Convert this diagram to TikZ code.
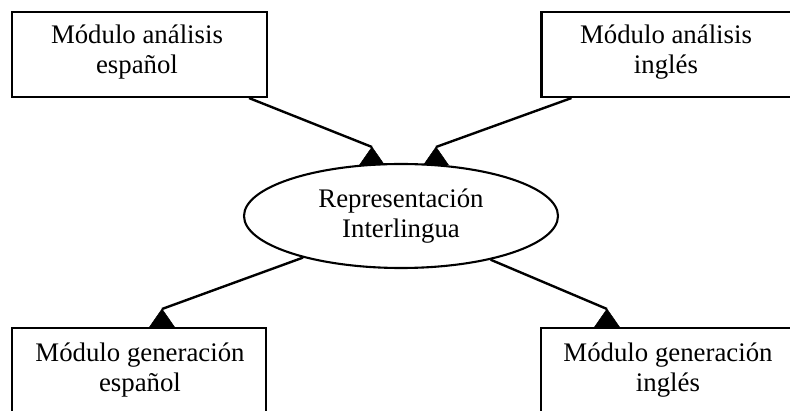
\documentclass[tikz,border=0pt]{standalone}
\usepackage{fontspec}
\setmainfont{Liberation Serif}
\usetikzlibrary{shapes.geometric}
\begin{document}
\begin{tikzpicture}[x=1pt,y=1pt,
  modbox/.style={draw, line width=2.1pt, rectangle, inner sep=0pt},
  modtext/.style={align=center, inner sep=0pt, font=\fontsize{26.8}{29.5}\selectfont},
  link/.style={line width=2.4pt},
  tiphead/.style={fill=black, draw=black, line width=0.5pt, line join=miter}]
  \useasboundingbox (0,0) rectangle (790,410);
  \clip (0,0) rectangle (790,410);

  % module boxes (the right-hand and lower ones run past the edges)
  \node[modbox, minimum width=255, minimum height=85] (tlbox) at (139.5,355.5) {};
  \node[modbox, minimum width=255, minimum height=85] (trbox) at (669,355.5) {};
  \node[modbox, minimum width=254, minimum height=110] (blbox) at (139,27) {};
  \node[modbox, minimum width=254, minimum height=110] (brbox) at (668,27) {};

  \node[modtext] (tl) at (137,358) {Módulo análisis\\español};
  \node[modtext] (tr) at (666,358) {Módulo análisis\\inglés};
  \node[modtext] (bl) at (140,40) {Módulo generación\\español};
  \node[modtext] (br) at (668,40) {Módulo generación\\inglés};

  % central interlingua
  \node[ellipse, draw, line width=2.1pt, minimum width=314, minimum height=104,
        inner sep=0pt, align=center, font=\fontsize{26.8}{29.5}\selectfont]
        (il) at (401,194) {Representación\\Interlingua};

  % arrow tips: upright triangles resting on the target
  \coordinate (tipA) at (372,263);
  \coordinate (tipB) at (436,263);
  \coordinate (tipC) at (162,101);
  \coordinate (tipD) at (607,101);
  \foreach \t in {tipA,tipB,tipC,tipD}
    \filldraw[tiphead] (\t) -- ++(-12.5,-18) -- ++(25,0) -- cycle;

  \draw[link] ([xshift=-19pt]tlbox.south east) -- (tipA);
  \draw[link] ([xshift=31pt]trbox.south west) -- (tipB);
  \draw[link] (il.203.6) -- (tipC);
  \draw[link] (il.334.5) -- (tipD);
\end{tikzpicture}
\end{document}
